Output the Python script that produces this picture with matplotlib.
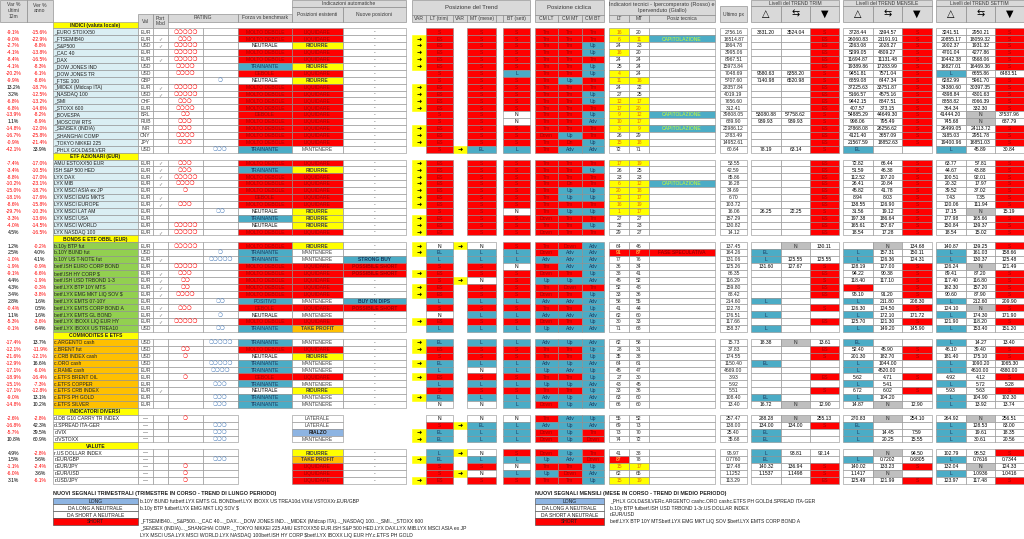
import matplotlib
matplotlib.use("Agg")
import matplotlib.pyplot as plt
from matplotlib.patches import Rectangle

# sections of the table and how many rows each has
section_titles = ["INDICI (valuta locale)", "ETF AZIONARI (EUR)", "BONDS E ETF OBBL (EUR)",
                  "COMMODITES E ETFS", "INDICATORI DIVERSI", "VALUTE"]
section_sizes = [18, 11, 13, 10, 4, 5]
section_kind = ["idx", "idx", "bond", "comm", "misc", "misc"]

names = [
    "_EURO STOXX50", "_FTSEMIB40", "_S&P500", "_CAC 40", "_DAX", "_DOW JONES IND", "_DOW JONES TR",
    "_FTSE 100", "_MIDEX (Midcap ITA)", "_NASDAQ 100", "_SMI", "_STOXX 600", "_BOVESPA", "_MOSCOW RTS",
    "_SENSEX (INDIA)", "_SHANGHAI COMP", "_TOKYO NIKKEI 225", "_PHLX GOLD&SILVER",
    "AMU ESTOXX50 EUR", "ISH S&P 500 HED", "LYX DAX", "LYX MIB", "LYX MSCI ASIA ex JP", "LYX MSCI EMG MKTS",
    "LYX MSCI EUROPE", "LYX MSCI LAT AM", "LYX MSCI USA", "LYX MSCI WORLD", "LYX NASDAQ 100",
    "b.10y BTP fut", "b.10Y BUND fut", "b.10Y US T-NOTE fut", "betf.ISH EURO CORP BOND", "betf.ISH HY CORP $",
    "betf.ISH USD TRBOND 1-3", "betf.LYX BTP 10Y MTS", "betf.LYX EMG MKT LIQ SOV $", "betf.LYX EMTS 07-10Y",
    "betf.LYX EMTS CORP BOND A", "betf.LYX EMTS GL BOND", "betf.LYX IBOXX LIQ EUR HY", "betf.LYX IBOXX US TREA10",
    "c.ARGENTO cash", "c.BRENT fut", "c.CRB INDEX cash", "c.ORO cash", "c.RAME cash", "c.ETFS BRENT OIL",
    "c.ETFS COPPER", "c.ETFS CRB INDEX", "c.ETFS PH GOLD", "c.ETFS SILVER",
    "d.DB G10 CARRY TR INDEX", "d.SPREAD ITA-GER", "d.VIX", "d.VSTOXX",
    "r.US DOLLAR INDEX", "r.EUR/GBP", "r.EUR/JPY", "r.EUR/USD", "r.USD/JPY",
]
var_12m = [
    -9.1, -9.0, -2.7, -4.1, -8.4, -4.1, -20.2, -9.9, 13.2, 3.2, -6.8, -6.8, -13.9, 1.1, -14.8, -16.7, -0.9, -42.1,
    -7.4, -3.4, -8.8, -10.2, -15.0, -18.1, -8.6, -29.7, -3.3, -4.0, 4.5,
    1.2, 2.5, -1.0, -1.9, -9.1, 4.4, 4.3, 3.4, 2.8, -0.4, 1.1, -5.3, -0.1,
    -17.4, -12.1, -21.6, -12.9, -17.1, -18.9, -15.1, -17.1, -9.0, -14.8,
    -2.6, -16.8, -5.7, 10.8,
    4.9, 1.5, -1.1, -6.0, 3.1,
]
var_anno = [
    -15.6, -22.9, -8.8, -13.8, -16.5, -8.3, -6.1, -8.6, -18.7, -12.5, -13.2, -14.6, -8.2, -8.9, -12.0, -25.8, -21.4, 33.9,
    -17.0, -10.5, -17.0, -23.1, -18.7, -17.6, -15.8, -10.3, -13.6, -14.5, -16.5,
    -0.2, 4.0, 4.1, -0.9, -6.6, -1.9, -0.3, -3.8, 1.6, 0.5, 1.6, -3.6, 6.4,
    13.7, -11.9, -12.1, 16.6, -6.0, -16.4, -7.3, -12.8, 13.1, 10.2,
    -2.8, 42.3, 39.5, 60.9,
    -2.8, 5.6, -2.4, 3.6, -6.1,
]
valuta = (["EUR", "EUR", "USD", "EUR", "EUR", "USD", "USD", "GBP", "EUR", "USD", "CHF", "EUR", "BRL", "RUB",
           "INR", "CNY", "JPY", "USD"] + ["EUR"] * 11
          + ["EUR", "USD", "EUR", "EUR", "EUR", "EUR", "EUR", "EUR", "EUR", "EUR", "EUR", "EUR", "USD"]
          + ["USD", "USD", "USD", "USD", "EUR", "EUR", "EUR", "EUR", "EUR", "EUR"]
          + ["—"] * 9)
port_mod = [0, 1, 1, 0, 1, 0, 0, 0, 1, 1, 0, 0, 0, 0, 0, 0, 0, 0,
            1, 1, 1, 1, 0, 1, 1, 0, 0, 0, 1,
            0, 0, 1, 0, 1, 1, 1, 1, 0, 1, 1, 1, 0,
            0, 0, 0, 0, 0, 0, 0, 1, 0, 0,
            0, 0, 0, 0, 0, 0, 0, 0, 0]
rating_neg = [5, 3, 5, 5, 5, 4, 4, 0, 5, 5, 3, 4, 2, 3, 3, 4, 3, 0,
              3, 3, 5, 4, 1, 0, 3, 0, 0, 5, 5,
              5, 0, 0, 5, 3, 2, 2, 4, 0, 3, 0, 5, 0,
              0, 2, 1, 0, 0, 1, 0, 0, 0, 0,
              1, 0, 0, 0, 0, 0, 1, 1, 1]
rating_pos = [0, 0, 0, 0, 0, 0, 0, 1, 0, 0, 0, 0, 0, 0, 0, 0, 0, 3,
              0, 0, 0, 0, 0, 0, 0, 2, 0, 0, 0,
              0, 1, 5, 0, 0, 0, 0, 0, 2, 0, 1, 0, 2,
              5, 0, 0, 5, 4, 0, 3, 0, 3, 3,
              0, 3, 3, 3, 0, 3, 0, 0, 0]
MD, D, NE, T, P = "MOLTO DEBOLE", "DEBOLE", "NEUTRALE", "TRAINANTE", "POSITIVO"
forza = [MD, MD, NE, MD, MD, T, D, NE, MD, MD, MD, MD, D, MD, MD, MD, MD, T,
         MD, T, MD, MD, MD, D, MD, NE, T, NE, MD,
         MD, T, T, MD, MD, MD, MD, MD, P, D, NE, MD, T,
         T, MD, NE, T, T, D, T, NE, T, T,
         None, None, None, None, None, None, None, None, None]
LQ, RI, MA = "LIQUIDARE", "RIDURRE", "MANTENERE"
posizioni = [LQ, LQ, RI, LQ, LQ, RI, LQ, RI, LQ, LQ, LQ, LQ, LQ, LQ, LQ, LQ, LQ, MA,
             LQ, RI, LQ, LQ, LQ, LQ, LQ, RI, RI, RI, LQ,
             RI, MA, MA, LQ, LQ, LQ, LQ, LQ, MA, LQ, MA, LQ, "TAKE PROFIT",
             MA, LQ, RI, MA, MA, LQ, MA, RI, MA, MA,
             "LATERALE", "LATERALE", "RIALZO", MA,
             RI, "TAKE PROFIT", LQ, LQ, LQ]
nuove = (["-"] * 29
         + ["-", "-", "STRONG BUY", "POSSIBILE SHORT", "POSSIBILE SHORT", "-", "-", "-", "BUY ON DIPS",
            "POSSIBILE SHORT", "-", "-", "-"]
         + ["-"] * 10 + [None] * 4 + ["-"] * 5)
var_lt = [0, 1, 1, 1, 1, 1, 0, 0, 1, 1, 1, 1, 0, 0, 1, 1, 1, 0,
          1, 1, 1, 1, 1, 1, 1, 0, 1, 1, 1,
          1, 1, 0, 0, 1, 0, 1, 1, 0, 0, 0, 1, 0,
          1, 1, 0, 1, 0, 1, 0, 0, 1, 0,
          0, 0, 1, 1,
          0, 1, 0, 0, 1]
trend_lt = ["S", "ES", "ES", "ES", "ES", "ES", "S", "S", "ES", "ES", "ES", "ES", "S", "S", "ES", "ES", "ES", "S",
            "ES", "ES", "ES", "ES", "ES", "ES", "ES", "S", "ES", "ES", "ES",
            "N", "EL", "L", "S", "ES", "S", "ES", "ES", "L", "S", "N", "ES", "L",
            "EL", "ES", "S", "EL", "L", "ES", "L", "S", "EL", "N",
            "N", "S", "EL", "EL",
            "L", "EL", "S", "S", "ES"]
var_mt = [0] * 17 + [1] + [0] * 11 + [1, 0, 0, 0, 0, 1, 0, 0, 0, 0, 0, 0, 0] + [0] * 10 + [0, 1, 0, 0] + [1, 0, 0, 1, 0]
trend_mt = ["S"] * 17 + ["EL"] + ["S"] * 11 + [
    "N", "L", "L", "S", "S", "N", "S", "S", "L", "S", "L", "S", "L",
    "L", "S", "S", "L", "N", "S", "L", "S", "L", "N",
    "N", "EL", "L", "L",
    "N", "L", "S", "N", "S"]
trend_bt = ["S", "S", "S", "S", "S", "S", "L", "S", "S", "S", "S", "S", "N", "N", "S", "S", "S", "L",
            "S", "S", "S", "S", "S", "S", "S", "N", "S", "S", "S",
            "S", "L", "L", "N", "S", "S", "S", "S", "L", "S", "L", "S", "L",
            "L", "S", "S", "L", "L", "S", "L", "S", "L", "L",
            "N", "L", "L", "L",
            "S", "L", "N", "L", "S"]
cm_lt = ["Tm"] * 15 + ["Down", "Tm", "Tm"] + ["Tm"] * 8 + ["Down", "Tm", "Down"] + [
    "Tm", "Down", "Adv", "Tm", "Down", "Up", "Tm", "Down", "Adv", "Tm", "Adv", "Down", "Up",
    "Adv", "Tm", "Tm", "Adv", "Up", "Tm", "Up", "Tm", "Adv", "Down",
    "Tm", "Adv", "Down", "Down",
    "Down", "Up", "Tm", "Up", "Tm"]
cm_mt = ["Tm", "Tm", "Tm", "Tm", "Tm", "Tm", "Tm", "Up", "Tm", "Tm", "Tm", "Tm", "Tm", "Tm", "Tm", "Up", "Dn", "Adv",
         "Tm", "Tm", "Tm", "Dn", "Up", "Up", "Tm", "Up", "Tm", "Tm", "Tm",
         "Down", "Adv", "Adv", "Adv", "Tm", "Up", "Down", "Tm", "Adv", "Tm", "Adv", "Tm", "Adv",
         "Up", "Tm", "Tm", "Up", "Adv", "Tm", "Up", "Tm", "Up", "Up",
         "Adv", "Up", "Up", "Up",
         "Up", "Adv", "Tm", "Down", "Tm"]
cm_bt = ["Tm", "Tm", "Up", "Up", "Tm", "Up", "Up", "Tm", "Tm", "Up", "Up", "Tm", "Up", "Adv", "Tm", "Tm", "Up", "Adv",
         "Tm", "Up", "Tm", "Tm", "Up", "Up", "Tm", "Up", "Tm", "Up", "Tm",
         "Adv", "Adv", "Adv", "Adv", "Up", "Adv", "Tm", "Up", "Adv", "Up", "Adv", "Up", "Adv",
         "Adv", "Up", "Up", "Adv", "Up", "Up", "Adv", "Up", "Adv", "Adv",
         "Up", "Adv", "Tm", "Down",
         "Tm", "Down", "Up", "Adv", "Up"]
ind_lt = [16, 6, 24, 16, 24, 25, 4, 11, 24, 27, 12, 17, 9, 10, 3, 26, 15, 72,
          17, 26, 23, 6, 20, 12, 16, 1, 27, 22, 29,
          64, 91, 77, 36, 38, 45, 52, 33, 58, 41, 62, 30, 71,
          62, 28, 35, 64, 45, 27, 43, 33, 63, 66,
          55, 69, 73, 74,
          41, 87, 15, 62, 15]
ind_mt = [20, 11, 23, 20, 24, 24, 24, 16, 22, 25, 17, 20, 12, 17, 9, 29, 18, 71,
          19, 25, 23, 12, 18, 17, 19, 17, 27, 23, 27,
          46, 87, 76, 34, 41, 52, 48, 36, 55, 44, 60, 33, 68,
          58, 31, 38, 61, 47, 30, 45, 36, 60, 60,
          52, 73, 70, 72,
          38, 78, 17, 65, 19]
# ipervenduto (giallo) / ipercomperato (rosso)
ind_lt_flag = ["V", "V", "", "V", "", "", "V", "V", "", "", "V", "V", "V", "V", "V", "", "V", "",
               "V", "", "", "V", "V", "V", "V", "V", "", "", "",
               "", "C", "", "", "", "", "", "", "", "", "", "", "",
               "", "", "", "", "", "", "", "", "", "",
               "", "", "", "",
               "", "C", "V", "", "V"]
ind_mt_flag = ["", "V", "", "", "", "", "", "V", "", "", "V", "V", "V", "V", "V", "", "V", "",
               "V", "", "", "V", "V", "V", "V", "V", "", "", "",
               "", "C", "", "", "", "", "", "", "", "", "", "", "",
               "", "", "", "", "", "", "", "", "", "",
               "", "", "", "",
               "", "", "V", "", "V"]
posiz_tecnica = {1: "CAPITOLAZIONE", 12: "CAPITOLAZIONE", 14: "CAPITOLAZIONE", 21: "CAPITOLAZIONE",
                 30: "FASE SPECULATIVA"}
ultimo_px = ["2756.16", "16514.87", "1864.78", "3995.06", "8967.51", "15973.84", "7048.69", "5707.60", "28357.84",
             "4019.19", "7656.60", "312.41", "39808.05", "689.90", "22986.12", "2783.49", "14952.61", "60.64",
             "53.55", "42.59", "85.86", "16.28", "34.69", "6.70", "103.72", "16.06", "157.29", "130.82", "14.12",
             "137.45", "164.26", "131.06", "125.26", "86.35", "116.29", "159.80", "88.42", "214.60", "122.78",
             "176.51", "117.66", "158.37",
             "15.73", "37.83", "174.55", "1150.40", "4669.00", "3.93", "5.92", "5.51", "108.40", "13.40",
             "257.47", "138.00", "25.40", "35.68",
             "95.97", "0.7760", "127.48", "1.1252", "113.29"]
trim_up = ["3831.20", "", "", "", "", "", "9580.63", "7140.98", "", "", "", "", "53080.88", "939.93", "", "", "", "78.19",
           "", "", "", "", "", "", "", "26.25", "", "", "",
           "", "EL", "L", "131.60", "", "", "", "", "L", "", "L", "", "L",
           "18.38", "", "", "EL", "", "", "", "", "EL", "16.72",
           "288.28", "134.00", "EL", "EL",
           "L", "EL", "140.32", "1.1537", ""]
trim_mid = ["3524.04", "", "", "", "", "", "8358.20", "6520.98", "", "", "", "", "57758.62", "939.93", "", "", "", "63.14",
            "", "", "", "", "", "", "", "22.25", "", "", "",
            "N", "", "125.55", "127.67", "", "", "", "", "", "", "", "", "",
            "N", "", "", "", "", "", "", "", "", "N",
            "N", "134.00", "", "",
            "93.81", "", "136.94", "1.1498", ""]
trim_dn = ["S", "ES", "ES", "ES", "ES", "ES", "S", "S", "ES", "ES", "ES", "ES", "S", "S", "ES", "ES", "ES", "S",
           "ES", "ES", "ES", "ES", "ES", "ES", "ES", "S", "ES", "ES", "ES",
           "130.11", "", "125.55", "S", "ES", "S", "ES", "ES", "", "S", "", "ES", "",
           "13.61", "ES", "S", "", "", "ES", "", "S", "", "12.90",
           "255.13", "S", "", "",
           "92.14", "", "S", "S", "ES"]
mens_up = ["3728.44", "26060.83", "2263.08", "5299.05", "11694.87", "19389.86", "9451.81", "6859.08", "37225.63",
           "5166.57", "9442.15", "407.57", "54885.29", "998.06", "27868.08", "4121.40", "21567.59", "EL",
           "72.82", "51.59", "112.52", "26.41", "45.82", "8.94", "138.55", "31.56", "197.38", "165.61", "18.54",
           "", "L", "L", "128.19", "94.22", "118.40", "S", "95.10", "L", "126.30", "L", "125.70", "L",
           "EL", "52.40", "201.30", "L", "L", "5.62", "L", "6.72", "L", "14.87",
           "270.83", "EL", "L", "L",
           "", "L", "140.02", "1.1417", "125.49"]
mens_mid = ["3394.57", "21191.91", "2028.27", "4809.27", "11131.48", "17283.99", "7571.04", "6447.34", "33751.87",
            "4575.16", "8847.51", "373.15", "44649.30", "795.49", "26256.62", "3657.09", "18852.63", "",
            "66.44", "46.38", "107.20", "20.84", "41.78", "8.03", "126.90", "19.12", "186.64", "157.67", "17.28",
            "N", "157.31", "126.36", "127.00", "90.38", "117.10", "", "91.20", "211.80", "124.50", "172.10", "121.30",
            "149.20",
            "", "45.90", "182.70", "1044.00", "4520.00", "4.71", "5.41", "6.02", "104.20", "N",
            "N", "", "14.45", "20.25",
            "N", "0.7202", "133.23", "N", "121.99"]
mens_dn = ["S"] * 17 + [""] + ["S"] * 11 + [
    "134.68", "150.11", "124.31", "S", "S", "S", "S", "S", "208.30", "S", "171.72", "S", "145.90",
    "", "S", "S", "", "", "S", "", "S", "", "12.90",
    "254.10", "", "7.59", "15.55",
    "94.50", "0.6805", "S", "", "S"]
sett_up = ["3241.51", "20855.17", "2002.37", "4701.04", "10442.38", "16827.01", "L", "6282.99", "34380.60",
           "4398.84", "8858.82", "364.34", "41444.20", "745.68", "26499.05", "3185.03", "19400.96", "L",
           "63.77", "44.67", "100.51", "20.32", "39.52", "7.43", "120.06", "17.15", "177.98", "150.84", "18.54",
           "140.87", "L", "L", "126.24", "89.41", "117.40", "162.30", "90.60", "L", "124.10", "L", "121.90", "L",
           "L", "46.10", "181.40", "L", "L", "4.92", "L", "5.93", "L", "L",
           "264.92", "L", "L", "L",
           "102.79", "L", "132.04", "L", "123.97"]
sett_mid = ["2950.21", "18059.32", "1931.32", "4277.86", "9568.06", "16469.36", "6655.86", "5961.70", "30397.35",
            "4301.63", "8066.39", "332.30", "N", "N", "24113.72", "2951.78", "16851.03", "45.89",
            "57.81", "43.88", "92.01", "17.97", "37.02", "7.35", "111.94", "N", "165.66", "139.37", "15.02",
            "139.25", "161.03", "130.37", "N", "87.20", "116.80", "157.20", "87.90", "212.60", "N", "174.30", "118.20",
            "153.40",
            "14.27", "39.40", "175.10", "1090.20", "4610.00", "4.12", "5.72", "5.63", "104.90", "13.92",
            "N", "128.53", "19.61", "30.61",
            "98.52", "0.7616", "N", "1.0936", "117.48"]
sett_dn = ["S"] * 6 + ["6483.51"] + ["S"] * 5 + ["37537.96", "687.79", "S", "S", "S", "30.84"] + [
    "S"] * 7 + ["15.19", "S", "S", "S"] + [
    "S", "158.66", "125.48", "121.49", "S", "S", "S", "S", "209.90", "S", "171.90", "S", "151.20",
    "13.40", "S", "S", "1065.30", "4380.00", "S", "5.28", "S", "102.30", "13.74",
    "256.51", "83.00", "18.35", "20.56",
    "S", "0.7344", "124.33", "1.0416", "S"]

legend_labels = ["LONG", "DA LONG A NEUTRALE", "DA SHORT A NEUTRALE", "SHORT"]
legend_trim = [
    ["b.10Y BUND futbetf.LYX EMTS GL BONDbetf.LYX IBOXX US TREA10d.VIXd.VSTOXXr.EUR/GBP"],
    ["b.10y BTP futbetf.LYX EMG MKT LIQ SOV $"],
    [""],
    ["_FTSEMIB40..._S&P500..._CAC 40..._DAX..._DOW JONES IND..._MIDEX (Midcap ITA)..._NASDAQ 100..._SMI..._STOXX 600",
     "_SENSEX (INDIA)..._SHANGHAI COMP..._TOKYO NIKKEI 225 AMU ESTOXX50 EUR.ISH S&P 500 HED.LYX DAX.LYX MIB.LYX MSCI ASIA ex JP",
     "LYX MSCI USA.LYX MSCI WORLD.LYX NASDAQ 100betf.ISH HY CORP $betf.LYX IBOXX LIQ EUR HY.c.ETFS PH GOLD"],
]
legend_mese = [
    ["_PHLX GOLD&SILVERc.ARGENTO cashc.ORO cashc.ETFS PH GOLDd.SPREAD ITA-GER"],
    ["b.10y BTP futbetf.ISH USD TRBOND 1-3r.US DOLLAR INDEX"],
    ["r.EUR/USD"],
    ["betf.LYX BTP 10Y MTSbetf.LYX EMG MKT LIQ SOV $betf.LYX EMTS CORP BOND A"],
]

# ---------------------------------------------------------------- drawing
RED, DRED, BLUE, NAVY = "#ff0000", "#a00000", "#4bacc6", "#17375e"
YEL, ORANGE, LBLUE, GRAY = "#ffff00", "#ffc000", "#8db4e2", "#bfbfbf"
HEAD, GRID = "#d9d9d9", "#8c8c8c"
FS = 3.6
FONT = ["Liberation Sans", "DejaVu Sans"]
ROW0, RH = 21.5, 6.9

cols = dict(v12=(0, 27), vy=(27, 53), name=(53, 138), val=(138, 153), port=(153, 168), rneg=(168, 203),
            rpos=(203, 238), forza=(238, 292), pos=(292, 343), nuove=(343, 406), varlt=(412, 426),
            lt=(426, 453), varmt=(453, 467), mt=(467, 496), bt=(503, 530), cmlt=(535, 558), cmmt=(558, 582),
            cmbt=(582, 604), ilt=(609, 629), imt=(629, 649), ptec=(649, 715), px=(720, 747),
            t1=(751, 781), t2=(781, 810), t3=(810, 839), m1=(843, 873), m2=(873, 902), m3=(902, 932),
            w1=(936, 966), w2=(966, 995), w3=(995, 1023.5))

fig = plt.figure(figsize=(10.24, 5.39), dpi=100)
ax = fig.add_axes([0, 0, 1, 1])
ax.set_xlim(0, 1024)
ax.set_ylim(539, 0)
ax.axis("off")


def box(x0, x1, y0, y1, text="", fc="white", ec=GRID, tc="black", fs=FS, bold=False, ha="center", lw=0.4,
        family=None):
    if fc is not None:
        ax.add_patch(Rectangle((x0, y0), x1 - x0, y1 - y0, facecolor=fc, edgecolor=ec, linewidth=lw))
    if text:
        tx = (x0 + x1) / 2 if ha == "center" else x0 + 1.5
        ax.text(tx, (y0 + y1) / 2 + 0.3, text, ha=ha, va="center", fontsize=fs, color=tc,
                family=family or FONT, fontweight="bold" if bold else "normal")


def cell(key, g, text="", **kw):
    x0, x1 = cols[key]
    y0 = ROW0 + RH * g
    box(x0, x1, y0, y0 + RH, text, **kw)


def signal_style(v):
    if v in ("S", "ES"):
        return dict(fc=RED, tc=DRED)
    if v in ("L", "EL"):
        return dict(fc=BLUE, tc=NAVY)
    return dict(fc="white", tc="black")


def level_style(v):
    if v == "N":
        return dict(fc=GRAY, tc="#262626")
    return signal_style(v)


def cycle_style(v):
    return dict(fc=BLUE, tc=NAVY) if v in ("Up", "Adv") else dict(fc=RED, tc=DRED)


forza_style = {MD: (RED, DRED), D: (RED, DRED), NE: ("white", "black"), T: (BLUE, NAVY), P: (BLUE, NAVY)}
pos_style = {LQ: (RED, DRED), RI: (YEL, "#404040"), MA: ("white", "#404040"), "TAKE PROFIT": (ORANGE, "#404040"),
             "RIALZO": (LBLUE, "#1f1f1f"), "LATERALE": ("white", "#404040")}
nuove_style = {"-": ("white", "#404040"), "STRONG BUY": (BLUE, NAVY), "BUY ON DIPS": (BLUE, NAVY),
               "POSSIBILE SHORT": (RED, DRED)}
name_bg = {"idx": "#daeef3", "bond": "#92d050", "comm": ORANGE, "misc": "white"}

# ---- header
hd = dict(fc=HEAD, ec="#7f7f7f", tc="#3a3a3a")
box(0, 27, 0, 21.5, "", **hd)
ax.text(13.5, 10.5, "Var %\nultimi\n12m", ha="center", va="center", fontsize=FS, color="#3a3a3a", family=FONT,
        linespacing=1.3)
box(27, 53, 0, 21.5, "", **hd)
ax.text(40, 8, "Ver %\nanno", ha="center", va="center", fontsize=FS, color="#3a3a3a", family=FONT)
box(138, 153, 13.5, 28.4, "Val", **hd)
box(153, 168, 13.5, 28.4, "", **hd)
ax.text(160.5, 21, "Port\nMod", ha="center", va="center", fontsize=FS, color="#3a3a3a", family=FONT)
box(168, 238, 13.5, 21.5, "RATING", **hd)
box(238, 292, 13.5, 21.5, "Forza vs benchmark", **hd)
box(292, 406, 0, 6.5, "Indicazioni automatiche", **hd)
box(292, 343, 6.5, 21.5, "Posizioni esistenti", **hd)
box(343, 406, 6.5, 21.5, "Nuove posizioni", **hd)
box(412, 530, 0, 15, "Posizione del Trend", fs=4.3, **hd)
for key, lab in [("varlt", "VAR"), ("lt", "LT (trim)"), ("varmt", "VAR"), ("mt", "MT (mese)"), ("bt", "BT (sett)")]:
    x0, x1 = cols[key]
    box(x0, x1, 15, 21.5, lab, **hd)
box(496, 503, 15, 21.5, "", **hd)
box(535, 604, 0, 15, "Posizione ciclica", fs=4.3, **hd)
for key, lab in [("cmlt", "CM LT"), ("cmmt", "CM MT"), ("cmbt", "CM BT")]:
    x0, x1 = cols[key]
    box(x0, x1, 15, 21.5, lab, **hd)
box(609, 715, 0, 15, "", **hd)
ax.text(662, 7.5, "Indicatori tecnici - Ipercomperato (Rosso) e\nIpervenduto (Giallo)", ha="center", va="center",
        fontsize=4.0, color="#3a3a3a", family=FONT, linespacing=1.4)
for key, lab in [("ilt", "LT"), ("imt", "MT"), ("ptec", "Posiz tecnica")]:
    x0, x1 = cols[key]
    box(x0, x1, 15, 21.5, lab, **hd)
box(720, 747, 6, 21.5, "Ultimo px", **hd)
for (a, b, c), title in [(("t1", "t2", "t3"), "Livelli del TREND TRIM"),
                         (("m1", "m2", "m3"), "Livelli del TREND MENSILE"),
                         (("w1", "w2", "w3"), "Livelli del TREND SETTIM")]:
    box(cols[a][0], cols[c][1], 0, 5.5, title, **hd)
    for key, sym in [(a, "△"), (b, "⇆"), (c, "▼")]:
        x0, x1 = cols[key]
        box(x0, x1, 5.5, 21.5, "", **hd)
        ax.text((x0 + x1) / 2, 13.5, sym, ha="center", va="center", fontsize=7, color="black",
                family=["DejaVu Sans"])

# ---- body
g = 0
i = 0
for title, n, kind in zip(section_titles, section_sizes, section_kind):
    cell("name", g, title, fc=YEL, bold=True, tc="#1f1f1f")
    g += 1
    for _ in range(n):
        v1, v2 = var_12m[i], var_anno[i]
        cell("v12", g, f"{v1:.1f}%", fc=None, tc=RED if v1 < 0 else "black")
        cell("vy", g, f"{v2:.1f}%", fc=None, tc=RED if v2 < 0 else "black")
        cell("name", g, names[i], fc=name_bg[kind], ha="left", tc="#1f1f1f")
        cell("val", g, valuta[i], tc="#404040")
        cell("port", g, "✓" if port_mod[i] else "", tc="#7f7f7f", family=["DejaVu Sans"])
        cell("rneg", g, "❍" * rating_neg[i], tc=RED, fs=4.0, family=["DejaVu Sans"])
        cell("rpos", g, "❍" * rating_pos[i], tc="#4f81bd", fs=4.0, family=["DejaVu Sans"])
        if forza[i] is not None:
            fc, tc = forza_style[forza[i]]
            cell("forza", g, forza[i], fc=fc, tc=tc)
        fc, tc = pos_style[posizioni[i]]
        cell("pos", g, posizioni[i], fc=fc, tc=tc, bold=posizioni[i] in (RI, "RIALZO", "TAKE PROFIT"))
        if nuove[i] is not None:
            fc, tc = nuove_style[nuove[i]]
            cell("nuove", g, nuove[i], fc=fc, tc=tc, bold=nuove[i] != "-")
        if var_lt[i]:
            cell("varlt", g, "➜", fc=YEL, ec=YEL, fs=4.5, tc="black", family=["DejaVu Sans"])
        if var_mt[i]:
            cell("varmt", g, "➜", fc=YEL, ec=YEL, fs=4.5, tc="black", family=["DejaVu Sans"])
        cell("lt", g, trend_lt[i], **signal_style(trend_lt[i]))
        cell("mt", g, trend_mt[i], **signal_style(trend_mt[i]))
        cell("bt", g, trend_bt[i], **signal_style(trend_bt[i]))
        cell("cmlt", g, cm_lt[i], **cycle_style(cm_lt[i]))
        cell("cmmt", g, cm_mt[i], **cycle_style(cm_mt[i]))
        cell("cmbt", g, cm_bt[i], **cycle_style(cm_bt[i]))
        for key, val, flag in [("ilt", ind_lt[i], ind_lt_flag[i]), ("imt", ind_mt[i], ind_mt_flag[i])]:
            if flag == "V":
                cell(key, g, str(val), fc=YEL, tc="#e46c0a")
            elif flag == "C":
                cell(key, g, str(val), fc=RED, tc="#ffff66")
            else:
                cell(key, g, str(val), tc="#262626")
        pt = posiz_tecnica.get(i, "")
        if pt == "CAPITOLAZIONE":
            cell("ptec", g, pt, fc=BLUE, tc="#ccff33")
        elif pt:
            cell("ptec", g, pt, fc=RED, tc="#7f0000")
        else:
            cell("ptec", g, "")
        cell("px", g, ultimo_px[i], tc="#262626")
        for key, lst in [("t1", trim_up), ("t2", trim_mid), ("t3", trim_dn), ("m1", mens_up), ("m2", mens_mid),
                         ("m3", mens_dn), ("w1", sett_up), ("w2", sett_mid), ("w3", sett_dn)]:
            v = lst[i]
            cell(key, g, v, **level_style(v))
        g += 1
        i += 1

# ---- legends
for x0, x1, tx, title, texts in [(53, 138, 140, "NUOVI SEGNALI TRIMESTRALI (TRIMESTRE IN CORSO - TREND DI LUNGO PERIODO)",
                                  legend_trim),
                                 (535, 604, 610, "NUOVI SEGNALI MENSILI (MESE IN CORSO - TREND DI MEDIO PERIODO)",
                                  legend_mese)]:
    ax.text(x0, 494, title, ha="left", va="center", fontsize=3.9, fontweight="bold", family=FONT,
            color="#1f1f1f")
    for k, lab in enumerate(legend_labels):
        y0 = 497.5 + 6.9 * k
        fc = {0: LBLUE, 3: RED}.get(k, "white")
        box(x0, x1, y0, y0 + 6.9, lab, fc=fc, ec="#404040", tc="#1f1f1f")
        for j, line in enumerate(texts[k]):
            ax.text(tx, y0 + 3.7 + 6.9 * j, line, ha="left", va="center", fontsize=3.6, family=FONT,
                    color="#1f1f1f")

fig.savefig("out.png", dpi=100)
